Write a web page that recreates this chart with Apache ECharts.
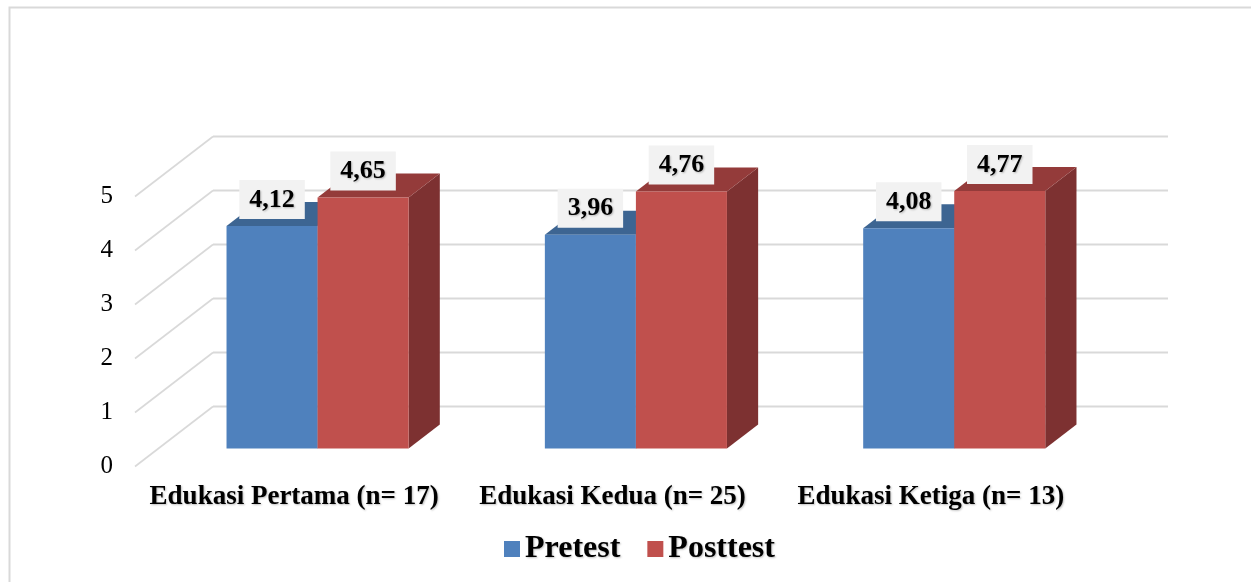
<!DOCTYPE html>
<html>
<head>
<meta charset="utf-8">
<script src="https://cdn.jsdelivr.net/npm/echarts@6/dist/echarts.min.js"></script>
<style>
  html, body { margin: 0; padding: 0; background: #fff; }
  #chart { width: 1251px; height: 582px; }
</style>
</head>
<body>
<div id="chart"></div>
<script>
// chart values
var categories = ['Edukasi Pertama (n= 17)', 'Edukasi Kedua (n= 25)', 'Edukasi Ketiga (n= 13)'];
var pretest = [4.12, 3.96, 4.08];
var posttest = [4.65, 4.76, 4.77];
var yTicks = [0, 1, 2, 3, 4, 5];

// 3D look: depth vector of the walls (front plane -> back wall)
var DEPTH_X = 78, DEPTH_Y = -60;
var FONT = '"Liberation Serif", "Times New Roman", serif';

// Format number the Indonesian way (comma decimal)
function fmt(v) {
    return v.toFixed(2).replace('.', ',');
}

// Side and back wall grid lines, one per y tick
function renderWall(params, api) {
    var cs = params.coordSys;
    var y = api.coord([0, api.value(0)])[1];
    var x0 = cs.x, x1 = cs.x + cs.width;
    return {
        type: 'group',
        children: [
            { type: 'line', shape: { x1: x0, y1: y, x2: x0 + DEPTH_X, y2: y + DEPTH_Y },
              style: { stroke: '#D9D9D9', lineWidth: 1.6, fill: null } },
            { type: 'line', shape: { x1: x0 + DEPTH_X, y1: y + DEPTH_Y, x2: x1 + DEPTH_X, y2: y + DEPTH_Y },
              style: { stroke: '#D9D9D9', lineWidth: 2.2, fill: null } }
        ]
    };
}

// Build a 3D bar renderer for series index s
function makeBarRenderer(s, colors) {
    return function (params, api) {
        var idx = api.value(0);
        var val = api.value(1);
        var base = api.coord([idx, 0]);
        var top = api.coord([idx, val]);
        var band = api.size([1, 0])[0];
        var w = band * 0.286;
        var fx = DEPTH_X * 0.3, fy = DEPTH_Y * 0.3;   // bar front plane
        var bx = DEPTH_X * 0.4, by = DEPTH_Y * 0.4;   // bar depth
        var x0 = base[0] + fx - w + s * w;
        var x1 = x0 + w;
        var yb = base[1] + fy;
        var yt = top[1] + fy;
        return {
            type: 'group',
            children: [
                { type: 'polygon', shape: { points: [[x1, yt], [x1 + bx, yt + by], [x1 + bx, yb + by], [x1, yb]] },
                  style: { fill: colors.side } },
                { type: 'polygon', shape: { points: [[x0, yt], [x1, yt], [x1 + bx, yt + by], [x0 + bx, yt + by]] },
                  style: { fill: colors.top } },
                { type: 'rect', shape: { x: x0, y: yt, width: w, height: yb - yt },
                  style: { fill: colors.front } },
                { type: 'text', x: (x0 + x1) / 2, y: yt - 7, z2: 10,
                  style: {
                      text: fmt(val), fill: '#000', fontFamily: FONT, fontSize: 26, fontWeight: 'bold',
                      align: 'center', verticalAlign: 'bottom',
                      backgroundColor: '#F2F2F2', padding: [7, 10, 6, 10],
                      textShadowColor: 'rgba(0,0,0,0.25)', textShadowBlur: 2,
                      textShadowOffsetX: 1, textShadowOffsetY: 1
                  } }
            ]
        };
    };
}

var chart = echarts.init(document.getElementById('chart'), null, { renderer: 'canvas' });

var option = {
    animation: false,
    backgroundColor: '#fff',
    grid: { left: 135, right: 161, top: 196.5, bottom: 115.5 },
    graphic: [
        { type: 'polyline', shape: { points: [[9.5, 582], [9.5, 7.5], [1251, 7.5]] },
          style: { stroke: '#D9D9D9', lineWidth: 2, fill: null }, silent: true }
    ],
    legend: {
        left: 499,
        top: 528,
        itemWidth: 16,
        itemHeight: 16,
        itemGap: 27,
        icon: 'rect',
        textStyle: { fontFamily: FONT, fontSize: 32, fontWeight: 'bold', color: '#000',
                     textShadowColor: 'rgba(0,0,0,0.25)', textShadowBlur: 2,
                     textShadowOffsetX: 1, textShadowOffsetY: 1 },
        data: ['Pretest', 'Posttest']
    },
    xAxis: {
        type: 'category',
        data: categories,
        axisLine: { show: false },
        axisTick: { show: false },
        axisLabel: {
            margin: 17, fontFamily: FONT, fontSize: 27, fontWeight: 'bold', color: '#000',
            interval: 0,
            textShadowColor: 'rgba(0,0,0,0.25)', textShadowBlur: 2,
            textShadowOffsetX: 1, textShadowOffsetY: 1
        }
    },
    yAxis: {
        type: 'value',
        min: 0, max: 5, interval: 1,
        axisLine: { show: false },
        axisTick: { show: false },
        splitLine: { show: false },
        axisLabel: { margin: 22, fontFamily: FONT, fontSize: 25, color: '#000' }
    },
    series: [
        {
            type: 'custom', name: 'walls', silent: true, z: 1,
            renderItem: renderWall,
            data: yTicks.map(function (v) { return [v]; }),
            encode: { y: 0 }
        },
        {
            type: 'custom', name: 'Pretest', z: 2,
            itemStyle: { color: '#4F81BD' },
            renderItem: makeBarRenderer(0, { front: '#4F81BD', top: '#3D6592', side: '#37598A' }),
            data: pretest.map(function (v, i) { return [i, v]; }),
            encode: { x: 0, y: 1 }
        },
        {
            type: 'custom', name: 'Posttest', z: 3,
            itemStyle: { color: '#C0504D' },
            renderItem: makeBarRenderer(1, { front: '#C0504D', top: '#943B3A', side: '#7D3131' }),
            data: posttest.map(function (v, i) { return [i, v]; }),
            encode: { x: 0, y: 1 }
        }
    ]
};

chart.setOption(option);
</script>
</body>
</html>
